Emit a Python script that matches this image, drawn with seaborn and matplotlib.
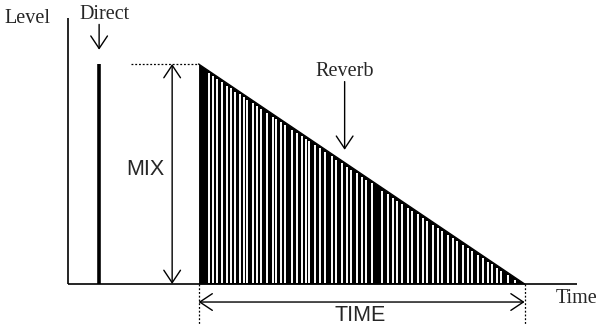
import numpy as np
import pandas as pd
import matplotlib
matplotlib.use("Agg")
import matplotlib.pyplot as plt
import seaborn as sns

# ---- data (time in ms, level relative) ----
direct_time = 9.5
direct_level = 1.0
reverb_times = [40.0, 140.0]
reverb_levels = [1.0, 0.0]
time_axis_end = 156.0
level_axis_top = 1.21
mix_x = 31.9
dotted_start = 19.3
reverb_label_time = 84.8
# white gaps between reflections inside the reverb tail
gap_times = [43.1, 44.3, 45.8, 47.1, 48.6, 49.8, 51.3, 52.6, 53.8, 55.0, 56.6, 57.8,
             59.3, 60.9, 62.7, 63.9, 65.2, 66.4, 68.8, 70.1, 71.6, 73.1, 74.0, 75.6,
             77.1, 78.7, 80.8, 82.3, 83.9, 85.4, 86.9, 88.5, 90.0, 91.5, 93.1, 96.4,
             98.0, 99.5, 101.0, 102.3, 104.1, 105.6, 107.2, 108.7, 110.2, 111.8, 113.3,
             114.8, 116.4, 117.9, 119.4, 121.0, 122.5, 124.0, 125.6, 127.1, 128.7,
             129.9, 131.4, 132.9, 134.8, 137.0, 138.5]

sns.set_theme(style="white")
plt.rcParams['font.family'] = ['Liberation Serif', 'DejaVu Serif']

fig = plt.figure(figsize=(5.97, 3.26), dpi=100)
ax = fig.add_axes([0, 0, 1, 1])
ax.set_xlim(-20.9, 162.2)
ax.set_ylim(-0.191, 1.291)
ax.axis("off")

# axes
ax.plot([0, 0], [0, level_axis_top], color="black", lw=1.2, solid_capstyle="butt")
ax.plot([0, time_axis_end], [0, 0], color="black", lw=1.2, solid_capstyle="butt")

# direct impulse
ax.vlines(direct_time, 0, direct_level, color="black", lw=2.6)

# reverb envelope (filled)
env = pd.DataFrame({"t": reverb_times, "level": reverb_levels})
ax.fill_between(env["t"], 0, env["level"], color="black", lw=0)
gap_levels = np.interp(gap_times, reverb_times, reverb_levels)
ax.vlines(gap_times, 0.006, gap_levels - 0.012, color="white", lw=1.4)
sns.lineplot(data=env, x="t", y="level", color="black", lw=1.0, ax=ax)
ax.set_xlabel("")
ax.set_ylabel("")

# dotted reference line at top of reverb
ax.plot([dotted_start, reverb_times[0]], [1, 1], color="black", lw=0.9, ls=(0, (1.5, 1.5)))

# MIX double arrow
arrow_kw = dict(arrowstyle="<->,head_length=0.45,head_width=0.3", color="black",
                lw=1.0, shrinkA=0, shrinkB=0, mutation_scale=20)
ax.annotate("", xy=(mix_x, 0), xytext=(mix_x, 1.0), arrowprops=arrow_kw)
ax.text(mix_x - 2.3, 0.52, "MIX", ha="right", va="center", fontsize=15.5,
        family=["Liberation Sans", "DejaVu Sans"])

# TIME double arrow
ty = -0.082
ax.annotate("", xy=(reverb_times[0], ty), xytext=(reverb_times[1], ty), arrowprops=arrow_kw)
for t in reverb_times:
    ax.plot([t, t], [0, -0.18], color="black", lw=0.9, ls=(0, (1.5, 1.5)))
ax.text(np.mean(reverb_times) - 0.5, -0.145, "TIME", ha="center", va="center", fontsize=15.5,
        family=["Liberation Sans", "DejaVu Sans"])

# labels
one_arrow = dict(arrowstyle="->,head_length=0.45,head_width=0.3", color="black",
                 lw=1.0, shrinkA=0, shrinkB=0, mutation_scale=20)
ax.text(-19.5, 1.205, "Level", ha="left", va="center", fontsize=14.5)
ax.text(direct_time + 1.8, 1.225, "Direct", ha="center", va="center", fontsize=14.5)
ax.annotate("", xy=(direct_time, 1.065), xytext=(direct_time, 1.18), arrowprops=one_arrow)
ax.text(reverb_label_time, 0.965, "Reverb", ha="center", va="center", fontsize=14.5)
ax.annotate("", xy=(reverb_label_time, 0.61), xytext=(reverb_label_time, 0.92),
            arrowprops=one_arrow)
ax.text(time_axis_end - 6.5, -0.065, "Time", ha="left", va="center", fontsize=14.5)

fig.savefig("out.png", dpi=100)
